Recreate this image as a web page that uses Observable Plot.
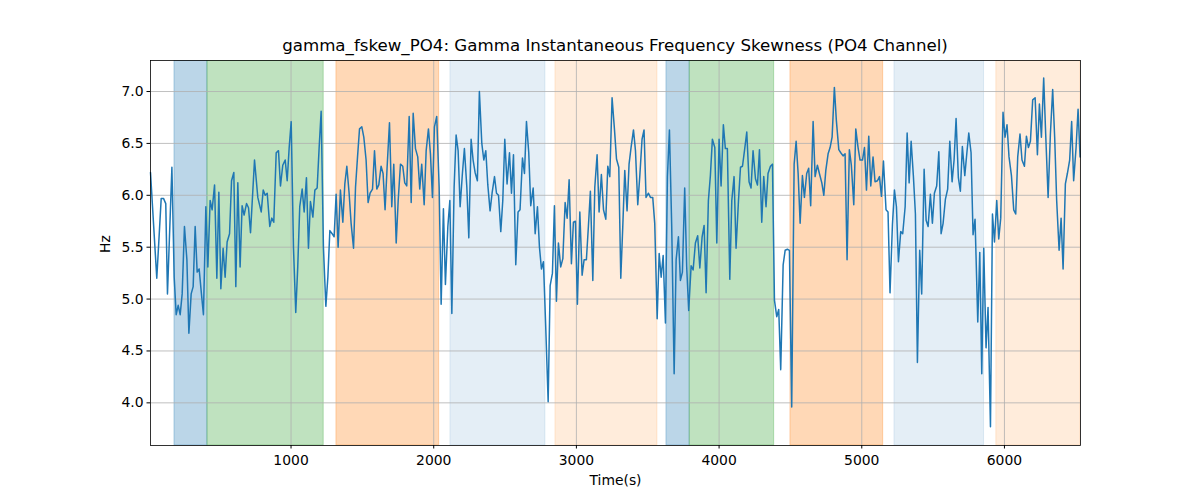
<!DOCTYPE html>
<html>
<head>
<meta charset="utf-8">
<script src="https://cdn.jsdelivr.net/npm/d3@7"></script>
<script src="https://cdn.jsdelivr.net/npm/@observablehq/plot@0.6"></script>
<style>
  body { margin: 0; background: #fff; font-family: "DejaVu Sans", sans-serif; }
  #title { width: 930px; margin-left: 150px; height: 24px; padding-top: 36px; line-height: 20px;
           font-size: 16.67px; text-align: center; color: #000; white-space: nowrap; }
</style>
</head>
<body>
<div id="title">gamma_fskew_PO4: Gamma Instantaneous Frequency Skewness (PO4 Channel)</div>
<div id="chart"></div>
<script>
const times = [15,59,90,106,122,134,165,181,195,209,223,237,253,270,284,300,314,328,342,356,372,386,403,417,433,447,464,480,494,508,524,538,552,569,583,599,613,627,643,657,671,688,
702,716,744,767,791,805,819,833,851,865,879,896,912,926,942,959,973,987,1001,1017,1033,1047,1061,1078,1092,1108,1122,1136,1153,1167,1183,1197,1211,1227,1244,1258,1272,1288,
1302,1316,1330,1346,1363,1377,1391,1407,1421,1438,1452,1466,1480,1496,1510,1526,1540,1554,1571,1585,1601,1615,1631,1645,1659,1673,1690,1706,1720,1737,1751,1767,1783,1797,1811,1828,1842,1856,1872,1888,1902,1916,1933,
1947,1963,1977,1991,2005,2021,2038,2052,2068,2082,2099,2113,2127,2143,2157,2171,2185,2201,2215,2232,2246,2262,2276,2290,2306,2320,2337,2351,2365,2379,2395,2409,2426,2440,2454,2470,2484,2498,2514,2531,2545,2559,2575,2591,2605,2622,2636,
2650,2666,2680,2697,2711,2727,2741,2755,2769,2785,2802,2816,2832,2846,2860,2874,2890,2905,2921,2935,2949,2965,2979,2993,3007,3024,3040,3054,3070,3084,3098,3115,3129,3145,3159,3175,3190,3206,3220,3234,
3250,3267,3281,3297,3311,3325,3339,3355,3369,3383,3400,3414,3430,3444,3460,3474,3488,3505,3519,3535,3549,3566,3580,3594,3608,3624,3638,3652,3668,3685,3699,3715,3729,3743,3759,3773,3787,3804,3818,3834,3850,3865,
3881,3895,3909,3925,3939,3953,3970,3984,4000,4014,4030,4044,4058,4075,4089,4105,4119,4136,4150,4164,4178,4194,4210,4224,4238,4255,4269,4283,4299,4313,4329,4343,4360,4374,4388,4404,4418,4432,4449,4463,4479,4493,4509,
4526,4540,4554,4568,4584,4598,4614,4628,4642,4659,4673,4689,4703,4720,4734,4748,4764,4778,4792,4808,4822,4839,4853,4869,4883,4897,4913,4927,4944,4958,4974,4988,5005,5019,5033,5049,5063,5079,5093,5110,5124,5138,5152,
5170,5184,5198,5215,5229,5243,5257,5273,5287,5304,5318,5332,5346,5362,5376,5390,5406,5420,5437,5451,5465,5481,5495,5509,5525,5540,5556,5570,5586,5602,5617,5633,5647,5661,5677,5691,5705,5722,5736,5750,5766,5780,5794,
5813,5827,5841,5855,5871,5885,5902,5916,5930,5946,5960,5974,5990,6004,6018,6032,6049,6065,6079,6093,6109,6123,6140,6154,6168,6182,6198,6215,6231,6245,6259,6275,6289,6306,6322,6338,6352,6366,6383,6397,6411,6427,6441,6457,6471,6485,6502,6516,6530];

const hz = [6.22,5.20,5.97,5.97,5.92,5.05,6.27,5.21,4.85,4.94,4.85,5.05,5.70,5.38,4.67,5.05,5.12,5.70,5.26,5.29,5.05,4.85,5.89,5.31,5.95,5.86,6.10,5.20,6.03,5.10,5.49,5.21,5.55,5.63,6.14,6.22,5.12,6.12,5.31,5.90,5.81,5.92,
5.88,5.64,6.34,5.98,5.84,6.05,6.00,6.02,5.70,5.78,5.74,6.41,6.43,6.09,6.29,6.34,6.14,6.46,6.71,5.50,4.87,5.31,5.89,6.06,5.84,6.17,5.49,5.94,5.79,6.05,6.07,6.46,6.81,5.50,4.93,5.21,5.66,5.63,
5.60,6.01,5.50,6.05,5.74,6.11,6.28,6.02,5.73,5.49,6.08,6.37,6.64,6.66,6.56,6.34,5.93,6.02,6.06,6.43,6.06,6.10,6.28,6.21,5.86,6.26,6.70,5.89,6.30,5.54,5.95,6.30,6.28,6.12,6.09,6.76,5.93,6.79,6.45,6.37,6.06,6.30,5.91,
6.43,6.64,6.40,5.98,6.66,6.76,6.08,4.95,5.87,5.14,5.70,5.95,4.86,6.08,6.58,6.43,5.89,6.21,6.45,6.08,5.59,6.54,6.34,6.22,6.14,7.00,6.50,6.34,6.43,6.10,5.85,6.02,6.18,6.02,6.00,5.65,5.95,6.54,6.11,6.41,6.02,6.39,5.33,5.84,5.86,6.36,6.21,
6.71,6.41,5.90,6.07,5.63,5.89,5.50,5.29,5.36,4.73,4.01,5.13,5.25,5.90,4.98,5.54,5.31,5.39,5.93,5.78,6.15,5.34,5.74,5.75,4.95,5.84,5.23,5.38,5.38,5.70,6.04,5.18,6.08,6.39,5.84,6.20,5.86,5.77,6.28,6.18,
6.94,6.63,6.35,6.27,5.20,5.70,6.24,5.85,6.30,6.46,6.63,6.43,5.91,6.18,6.54,6.63,5.98,6.02,5.98,5.98,5.73,4.81,5.44,5.21,5.42,4.77,6.18,6.63,5.70,4.28,5.38,5.60,5.18,5.26,6.07,5.31,4.89,5.32,5.28,5.54,5.61,5.30,
5.60,5.71,5.06,5.95,6.19,6.54,6.46,5.54,6.54,6.09,6.68,6.45,6.45,5.19,5.95,6.18,5.49,5.95,6.27,6.28,6.43,6.61,6.13,6.07,6.43,6.16,6.10,6.44,5.74,6.18,5.89,6.21,6.28,6.30,4.99,4.83,4.90,4.32,5.33,5.47,5.48,5.47,3.96,
6.30,6.52,6.21,5.73,6.19,5.98,6.21,6.26,5.90,6.71,6.18,6.29,6.21,6.12,6.00,6.24,6.40,6.46,6.56,7.04,6.72,6.44,6.41,6.38,6.40,5.38,6.44,6.29,5.91,6.64,6.46,6.34,6.34,6.46,6.05,6.57,6.09,6.37,6.13,6.14,6.18,5.99,6.33,
5.86,5.84,5.06,5.72,6.05,5.89,5.36,5.65,5.63,5.89,6.60,6.12,6.52,6.18,5.82,4.39,5.47,5.05,6.25,5.76,5.70,6.01,5.73,6.02,6.09,6.42,5.63,5.73,5.96,6.06,6.52,6.13,6.34,6.74,6.17,6.04,6.47,6.19,6.40,6.60,6.41,5.62,5.77,
4.78,5.45,4.28,5.49,4.53,4.92,3.77,5.82,5.55,5.95,5.58,5.78,6.80,6.56,6.68,6.37,6.19,5.86,5.82,6.37,6.59,6.34,6.28,6.57,6.46,6.52,6.92,6.94,6.39,6.88,6.56,7.13,6.59,5.98,6.59,7.02,6.56,5.95,5.47,5.78,5.29,6.11,6.21,6.34,6.71,6.14,6.46,6.83,6.37];

const regionStart = [183, 414, 1318, 2117, 2853, 3631, 3794, 4500, 5229, 5943];
const regionEnd   = [414, 1229, 2038, 2783, 3568, 3794, 4386, 5150, 5857, 6533];
const regionKind  = ["A", "B", "C", "D", "E", "A", "B", "C", "D", "E"];

const xTicks = [1000, 2000, 3000, 4000, 5000, 6000];
const yTicks = [4.0, 4.5, 5.0, 5.5, 6.0, 6.5, 7.0];

const kindColor = {A: "#1f77b4", B: "#2ca02c", C: "#ff7f0e", D: "#1f77b4", E: "#ff7f0e"};
const kindAlpha = {A: 0.3, B: 0.3, C: 0.3, D: 0.12, E: 0.15};

const series = times.map((t, i) => ({t, v: hz[i]}));
const regions = regionStart.map((s, i) => ({s, e: regionEnd[i], k: regionKind[i]}));

const fontSize = "13.9px";
const chart = Plot.plot({
  width: 1200,
  height: 440,
  marginLeft: 150,
  marginRight: 120,
  marginTop: 0,
  marginBottom: 55,
  style: {fontFamily: "DejaVu Sans, sans-serif", fontSize: fontSize, color: "#000", background: "#fff"},
  x: {domain: [15, 6533]},
  y: {domain: [3.589, 7.299]},
  marks: [
    Plot.rect(regions, {x1: "s", x2: "e", fill: d => kindColor[d.k], fillOpacity: d => kindAlpha[d.k],
      stroke: d => kindColor[d.k], strokeOpacity: d => kindAlpha[d.k], strokeWidth: 1}),
    Plot.gridX(xTicks, {stroke: "#b0b0b0", strokeOpacity: 1, strokeWidth: 0.8}),
    Plot.gridY(yTicks, {stroke: "#b0b0b0", strokeOpacity: 1, strokeWidth: 0.8}),
    Plot.line(series, {x: "t", y: "v", stroke: "#1f77b4", strokeWidth: 1.5}),
    Plot.frame({stroke: "#000", strokeWidth: 0.8}),
    Plot.axisX(xTicks, {tickSize: 3.5, tickPadding: 6, label: null, fontSize: fontSize, tickFormat: d => String(d)}),
    Plot.axisY(yTicks, {tickSize: 3.5, tickPadding: 3.5, label: null, fontSize: fontSize, tickFormat: d => d.toFixed(1)}),
    Plot.text(["Time(s)"], {frameAnchor: "bottom", dy: 39, fontSize: fontSize, fill: "#000"}),
    Plot.text(["Hz"], {frameAnchor: "left", dx: -45, rotate: -90, fontSize: fontSize, fill: "#000"})
  ]
});
document.getElementById("chart").appendChild(chart);
</script>
</body>
</html>
